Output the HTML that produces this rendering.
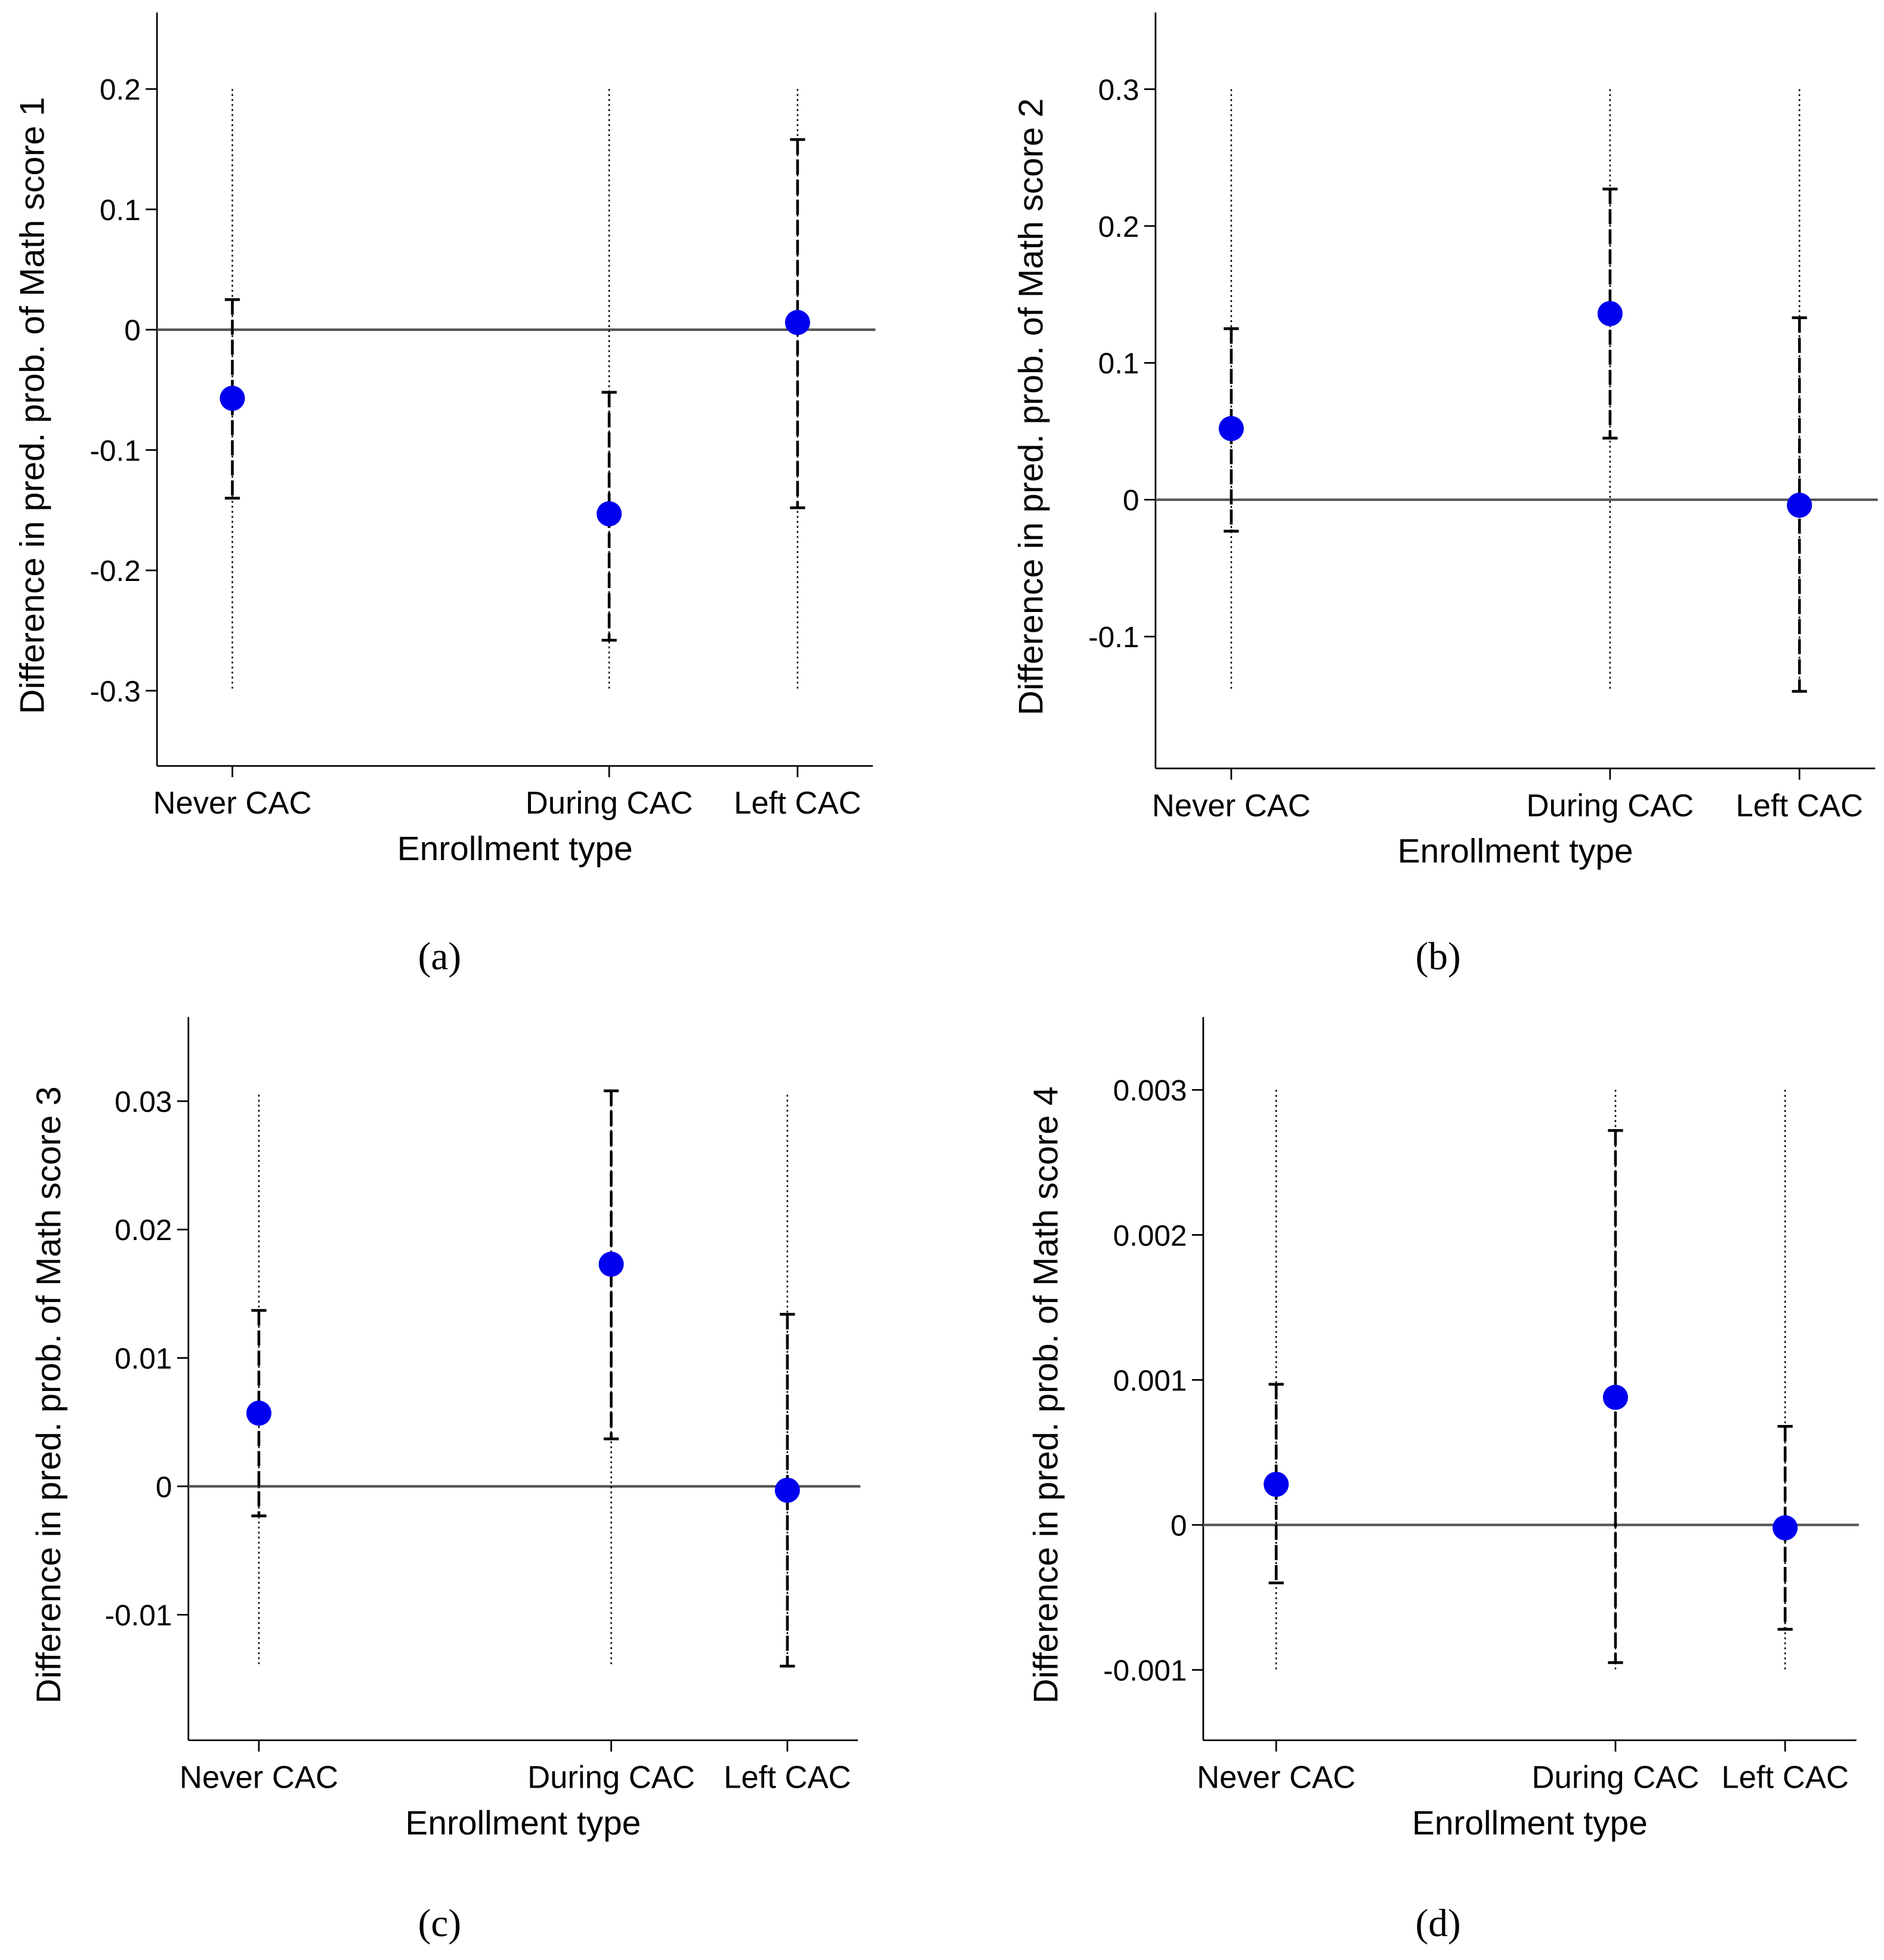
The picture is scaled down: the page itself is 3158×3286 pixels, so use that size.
<!DOCTYPE html>
<html><head><meta charset="utf-8"><style>
html,body{margin:0;padding:0;background:#fff}
svg{display:block}
text{font-family:"Liberation Sans",sans-serif;fill:#000}
</style></head><body>
<svg id="fig" width="3158" height="3286" viewBox="0 0 1500 1561" preserveAspectRatio="none" xmlns="http://www.w3.org/2000/svg"></svg>
<script>
const categories = ["Never CAC","During CAC","Left CAC"];
const catPos = [1,3,4];
// panel a
const estA = [-0.057,-0.153,0.006];
const loA = [-0.140,-0.258,-0.148];
const hiA = [0.025,-0.052,0.158];
const ticksA = [0.2,0.1,0,-0.1,-0.2,-0.3];
const tickLabelsA = ["0.2","0.1","0","-0.1","-0.2","-0.3"];
// panel b
const estB = [0.052,0.136,-0.004];
const loB = [-0.023,0.045,-0.140];
const hiB = [0.125,0.227,0.133];
const ticksB = [0.3,0.2,0.1,0,-0.1];
const tickLabelsB = ["0.3","0.2","0.1","0","-0.1"];
// panel c
const estC = [0.0057,0.0173,-0.0003];
const loC = [-0.0023,0.0037,-0.0140];
const hiC = [0.0137,0.0308,0.0134];
const ticksC = [0.03,0.02,0.01,0,-0.01];
const tickLabelsC = ["0.03","0.02","0.01","0","-0.01"];
// panel d
const estD = [0.00028,0.00088,-0.00002];
const loD = [-0.00040,-0.00095,-0.00072];
const hiD = [0.00097,0.00272,0.00068];
const ticksD = [0.003,0.002,0.001,0,-0.001];
const tickLabelsD = ["0.003","0.002","0.001","0","-0.001"];

const NS="http://www.w3.org/2000/svg";
const svg=document.getElementById('fig');
function mk(tag,attrs,parent,txt){const e=document.createElementNS(NS,tag);for(const k in attrs)e.setAttribute(k,attrs[k]);if(txt!==undefined)e.textContent=txt;(parent||svg).appendChild(e);return e;}

function panel(cfg,est,lo,hi,ticks,tickLabels){
  const g=mk('g',{});
  
  
  const {x0,x1,yTop,yBot,vTop,vBot,xmin,xmax}=cfg;
  const sy=v=>yTop+(vTop-v)/(vTop-vBot)*(yBot-yTop);
  const sx=c=>x0+(c-xmin)/(xmax-xmin)*(x1-x0);
  const ya=mk('line',{x1:x0,y1:yTop,x2:x0,y2:yBot,stroke:'#000','stroke-width':1.3},g);
  
  const xa=mk('line',{x1:x0,y1:yBot,x2:x1,y2:yBot,stroke:'#000','stroke-width':1.3},g);
  
  ticks.forEach((t,i)=>{
    const y=sy(t);
    mk('line',{x1:x0-9,y1:y,x2:x0,y2:y,stroke:'#000','stroke-width':1.3},g);
    const tl=mk('text',{x:x0-13,y:y+8.5,'font-size':23.5,'text-anchor':'end'},g,tickLabels[i]);
    
  });
  const z=mk('line',{x1:x0,y1:sy(0),x2:x1+2,y2:sy(0),stroke:'#555','stroke-width':2},g);
  
  categories.forEach((c,i)=>{
    const x=sx(catPos[i]);
    mk('line',{x1:x,y1:yBot,x2:x,y2:yBot+9,stroke:'#000','stroke-width':1.3},g);
    const cl=mk('text',{x:x,y:yBot+38,'font-size':25,'text-anchor':'middle'},g,c);
    
    const d=mk('line',{x1:x,y1:sy(cfg.dTop),x2:x,y2:sy(cfg.dBot),stroke:'#000','stroke-width':1.2,'stroke-dasharray':'1.5,2.5'},g);
    
    const e=mk('line',{x1:x,y1:sy(hi[i]),x2:x,y2:sy(lo[i]),stroke:'#000','stroke-width':2.2,'stroke-dasharray':'12,4'},g);
    
    mk('line',{x1:x-6,y1:sy(hi[i]),x2:x+6,y2:sy(hi[i]),stroke:'#000','stroke-width':2.2},g);
    mk('line',{x1:x-6,y1:sy(lo[i]),x2:x+6,y2:sy(lo[i]),stroke:'#000','stroke-width':2.2},g);
    const p=mk('circle',{cx:x,cy:sy(est[i]),r:10,fill:'#0000ee'},g);
    
  });
  const xt=mk('text',{x:(x0+x1)/2,y:yBot+75,'font-size':27,'text-anchor':'middle'},g,'Enrollment type');
  
  const ym=(yTop+yBot)/2+13;
  const yt=mk('text',{x:0,y:0,'font-size':27.5,'text-anchor':'middle',transform:`translate(${cfg.ytx},${ym}) rotate(-90)`},g,'Difference in pred. prob. of Math score '+cfg.n);
  
  const cap=mk('text',{x:cfg.capx,y:cfg.capy,'font-size':31,'text-anchor':'middle','style':'font-family:"Liberation Serif",serif'},g,'('+cfg.id+')');
  
}
panel({id:'a',n:1,x0:125,x1:695,yTop:10,yBot:610,vTop:0.2+61/960,vBot:-0.3-60/960,xmin:0.6,xmax:4.4,dTop:0.2,dBot:-0.3,ytx:35,capx:350,capy:772},estA,loA,hiA,ticksA,tickLabelsA);
panel({id:'b',n:2,x0:920,x1:1493,yTop:10,yBot:612,vTop:0.3+61/1090,vBot:-0.1-105/1090,xmin:0.6,xmax:4.4,dTop:0.3,dBot:-0.14,ytx:830,capx:1145,capy:772},estB,loB,hiB,ticksB,tickLabelsB);
panel({id:'c',n:3,x0:150,x1:683,yTop:810,yBot:1386,vTop:0.03+67/10230,vBot:-0.01-100/10230,xmin:0.6,xmax:4.4,dTop:0.0305,dBot:-0.014,ytx:48,capx:350,capy:1542},estC,loC,hiC,ticksC,tickLabelsC);
panel({id:'d',n:4,x0:958,x1:1478,yTop:810,yBot:1386,vTop:0.003+58/115400,vBot:-0.001-56/115400,xmin:0.57,xmax:4.42,dTop:0.003,dBot:-0.001,ytx:842,capx:1145,capy:1542},estD,loD,hiD,ticksD,tickLabelsD);
</script>
</body></html>
